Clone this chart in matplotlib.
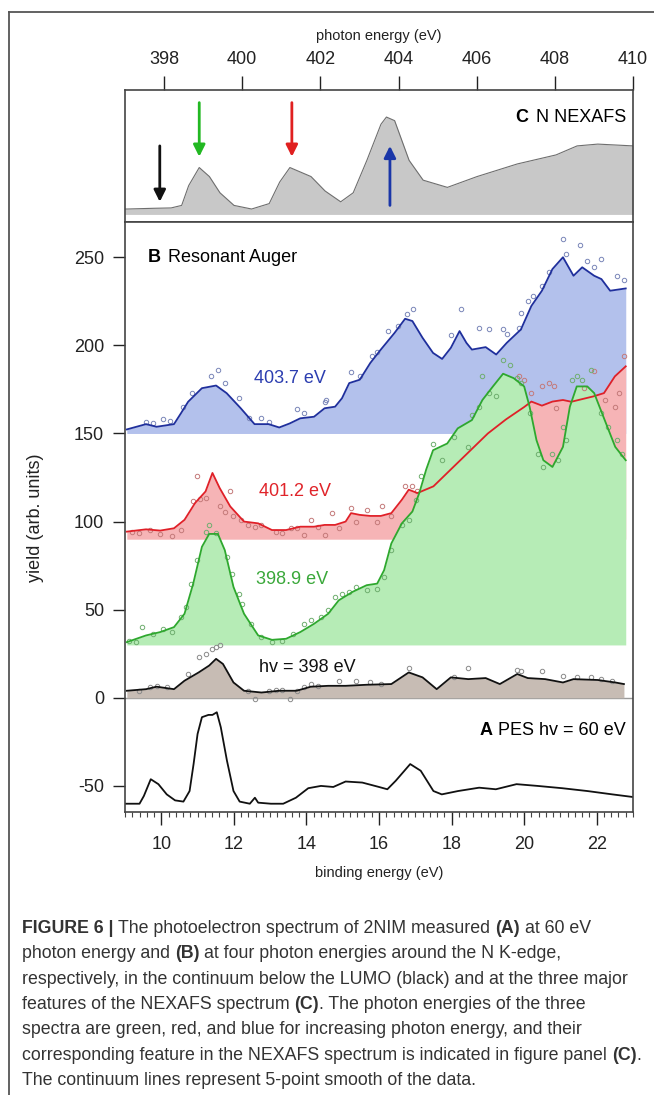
import matplotlib
matplotlib.use("Agg")
import matplotlib.pyplot as plt
from matplotlib.lines import Line2D
from matplotlib.transforms import IdentityTransform

plt.rcParams['font.family'] = ['Liberation Sans', 'DejaVu Sans']
plt.rcParams['axes.unicode_minus'] = False

# ---- panel C: N NEXAFS (photon energy, arb. height)
nexafs_e = [397.0, 397.06, 397.73, 398.18, 398.45, 398.63, 398.9, 399.16, 399.43, 399.79,
            400.24, 400.69, 400.96, 401.22, 401.76, 402.12, 402.52, 402.84, 403.19, 403.55,
            403.69, 403.9, 404.27, 404.63, 405.25, 406.01, 407.04, 408.03, 408.57, 409.1, 410.0]
nexafs_i = [15, 15, 17, 18, 25, 80, 130, 105, 60, 25,
            15, 30, 90, 130, 105, 65, 35, 60, 150, 250,
            270, 260, 150, 95, 75, 105, 140, 165, 190, 195, 190]

# arrows marking the photon energies (x, tail, head)
arrow_e = [397.89, 398.9, 401.27, 403.78]
arrow_from = [190, 310, 310, 25]
arrow_to = [35, 160, 160, 190]
arrow_col = ['#111111', '#22b822', '#e02020', '#1a36a8']

# ---- panel B: resonant Auger, smoothed lines
blue_e = [9.05, 9.58, 9.87, 10.35, 10.54, 10.74, 11.12, 11.51, 11.8, 12.19, 12.57, 12.96, 13.25,
          13.54, 13.83, 14.21, 14.5, 14.79, 14.98, 15.18, 15.47, 15.76, 16.05, 16.43, 16.72, 16.92,
          17.2, 17.49, 17.74, 17.98, 18.22, 18.41, 18.56, 18.94, 19.23, 19.52, 19.91, 20.2, 20.49,
          20.78, 21.07, 21.36, 21.6, 21.93, 22.13, 22.37, 22.8]
blue_v = [152.3, 155.3, 153.8, 155.3, 161.4, 168, 175.7, 177.2, 172.9, 164.3, 155.3, 155.3, 153.4,
          155.7, 158.6, 159.5, 164.3, 165.2, 170, 178.6, 180.5, 190, 197.6, 207.1, 215.1, 213.8,
          204.3, 195.7, 192.3, 198.6, 208.1, 201.4, 197.6, 199, 194.8, 201.4, 209, 222.4, 231,
          243.3, 250, 239.5, 244.3, 239.5, 237.6, 231, 232.3]

red_e = [9.05, 9.58, 9.97, 10.35, 10.64, 10.93, 11.22, 11.41, 11.61, 11.9, 12.28, 12.67, 13.05,
         13.44, 13.83, 14.21, 14.5, 14.79, 15.08, 15.23, 15.47, 15.76, 16.05, 16.34, 16.63, 16.82,
         17.06, 17.5, 18.0, 18.5, 19.0, 19.5, 20.0, 20.2, 20.49, 20.78, 21.07, 21.3, 21.9, 22.2,
         22.5, 22.8]
red_v = [94.3, 95.6, 94.9, 96.2, 101, 110.5, 117.1, 127.6, 119, 108.6, 100, 99, 95.2,
         95.2, 97.1, 97.1, 98.1, 98.1, 100, 104.8, 103.8, 103.2, 103.2, 104.8, 112.4, 118.1,
         116.2, 120, 130, 140, 150, 158, 165, 168.1, 165.8, 168.1, 169, 168, 171, 172.9,
         182.4, 188.1]

green_e = [9.05, 9.58, 9.97, 10.35, 10.64, 10.88, 11.12, 11.32, 11.56, 11.75, 11.99, 12.28, 12.67,
           13.05, 13.44, 13.83, 14.21, 14.6, 14.89, 15.27, 15.66, 15.95, 16.14, 16.34, 16.63, 16.92,
           17.11, 17.3, 17.49, 17.88, 18.17, 18.56, 18.85, 19.14, 19.42, 19.71, 20.0, 20.15, 20.34,
           20.53, 20.78, 21.07, 21.26, 21.45, 21.74, 21.93, 22.22, 22.51, 22.8]
green_v = [31.6, 35.4, 37.3, 40.1, 47.7, 64.8, 85.7, 93, 93, 83.8, 62.9, 47.7, 35.4,
           32.9, 33.5, 37.3, 42, 47.7, 55.3, 60.1, 63.9, 64.8, 72.4, 87.6, 99, 105.7,
           116.2, 129.5, 140.5, 144.3, 152.9, 157.6, 169, 176.7, 183.9, 181.4, 176.7, 165.2, 146.2,
           134.8, 131, 142.4, 165.2, 176.7, 176.7, 172.9, 157.6, 142.4, 134.8]

black_e = [9.05, 9.58, 9.87, 10.35, 10.64, 11.03, 11.32, 11.51, 11.7, 11.99, 12.28, 12.76, 13.25,
           13.73, 14.12, 14.6, 15.08, 15.66, 16.34, 16.82, 17.2, 17.59, 17.98, 18.46, 18.94, 19.33,
           19.81, 20.1, 20.58, 21.07, 21.36, 22.03, 22.51, 22.75]
black_v = [4, 4.9, 6.3, 4.9, 9.7, 14.4, 18.3, 22.1, 19.2, 8.7, 4, 3, 4,
           4, 6.3, 6.8, 6.8, 7.4, 7.8, 14.4, 11.6, 4.9, 11.6, 10.6, 11.2, 7.8,
           13.5, 11.2, 10.6, 8.7, 10.6, 10.1, 8.7, 7.8]

# ---- panel B: raw data points
blue_pe = [9.58, 9.77, 10.06, 10.25, 10.59, 10.85, 11.36, 11.56, 11.75, 12.14, 12.43, 12.76, 12.96,
           13.73, 13.92, 14.5, 14.55, 15.23, 15.47, 15.8, 15.95, 16.24, 16.53, 16.77, 16.94, 17.98,
           18.25, 18.75, 19.04, 19.42, 19.52, 19.86, 19.91, 20.1, 20.25, 20.49, 20.68, 21.07, 21.16,
           21.55, 21.74, 21.93, 22.13, 22.56, 22.75]
blue_pv = [156.7, 155.7, 158.2, 157, 165.2, 172.9, 182.4, 185.8, 178.6, 170, 158.6, 158.6, 156.7,
           163.7, 161.8, 168.1, 169, 184.7, 182.4, 193.8, 196.1, 208.1, 211, 218, 220.9, 205.6,
           220.9, 210, 209, 209, 206.2, 210, 218.6, 225.2, 228.1, 233.8, 241.4, 260.1, 251.9,
           257, 248.1, 244.3, 249, 239.1, 237]

red_pe = [9.19, 9.39, 9.68, 9.97, 10.3, 10.54, 10.88, 11.08, 11.22, 10.98, 11.9, 11.61, 11.75,
          11.99, 12.19, 12.38, 12.57, 12.76, 13.15, 13.34, 13.58, 13.73, 13.92, 14.12, 14.31, 14.5,
          14.7, 14.89, 15.23, 15.37, 15.66, 15.95, 16.09, 16.34, 16.72, 16.92, 17.06, 19.86, 20.0,
          20.2, 20.49, 20.68, 20.82, 20.87, 21.64, 21.93, 22.22, 22.61, 22.75, 22.51]
red_pv = [94.3, 93.7, 95.2, 93, 91.8, 95.2, 111.4, 112.7, 113.3, 126, 117.1, 108.6, 105.7,
          102.9, 101, 98.1, 97.1, 98.1, 94.3, 93.7, 96.2, 96.2, 92.4, 101, 97.1, 92.4,
          104.8, 96.2, 107.6, 100, 106.7, 100, 108.6, 102.9, 120, 120, 117.1, 182.4, 180.5,
          172.9, 176.7, 178.6, 176.7, 164.3, 175.7, 185.2, 169, 172.9, 193.8, 165.2]

green_pe = [9.1, 9.29, 9.48, 9.77, 10.06, 10.3, 10.54, 10.69, 10.83, 10.98, 11.22, 11.32, 11.51,
            11.8, 11.94, 12.14, 12.23, 12.47, 12.76, 13.05, 13.34, 13.63, 13.92, 14.12, 14.41, 14.6,
            14.79, 14.98, 15.18, 15.37, 15.66, 15.95, 16.14, 16.34, 16.63, 16.82, 17.01, 17.16, 17.49,
            17.74, 18.07, 18.46, 18.56, 18.75, 18.85, 19.04, 19.23, 19.42, 19.62, 19.81, 19.91, 20.15,
            20.39, 20.53, 20.78, 20.92, 21.07, 21.16, 21.31, 21.45, 21.6, 21.84, 22.13, 22.32, 22.56,
            22.71]
green_pv = [32.5, 31.6, 40.1, 36.3, 39.2, 37.3, 45.8, 51.5, 64.8, 78.1, 94.3, 98.1, 93.3,
            80, 70.5, 59.1, 53.4, 42, 34.4, 31.6, 32.5, 36.3, 42, 43.9, 45.8, 49.6,
            57.2, 59.1, 60.1, 62.9, 61, 62, 68.6, 83.8, 98.1, 101, 112.4, 125.7, 144.3,
            134.8, 148.1, 142.4, 160.5, 165.2, 182.4, 172.9, 171, 191.9, 189, 181.4, 178.6, 161.4,
            138.6, 131, 138.6, 134.8, 153.8, 146.2, 180.5, 182.4, 180.5, 186.2, 161.4, 153.8, 146.2,
            138.6]

black_pe = [9.39, 9.68, 9.87, 10.16, 10.74, 11.03, 11.22, 11.41, 11.51, 11.61, 12.38, 12.57, 12.96,
            13.15, 13.34, 13.54, 13.73, 13.92, 14.12, 14.31, 14.89, 15.37, 15.76, 16.05, 16.82, 18.07,
            18.46, 19.81, 19.91, 20.49, 21.07, 21.45, 21.84, 22.13, 22.42]
black_pv = [4, 5.9, 6.8, 5.9, 13.5, 23, 24.9, 27.8, 28.7, 29.7, 4, -0.8, 4,
            4.4, 4.4, -0.8, 4, 5.9, 7.8, 6.8, 9.7, 9.7, 8.7, 7.8, 16.9, 12,
            16.9, 15.8, 15.4, 15, 12.5, 12, 11.6, 10.6, 9.7]

# ---- panel A: PES at 60 eV
pes_e = [9.0, 9.4, 9.52, 9.71, 9.92, 10.15, 10.38, 10.61, 10.78, 10.89, 11.0, 11.12, 11.3,
         11.41, 11.53, 11.64, 11.81, 11.99, 12.16, 12.44, 12.58, 12.67, 13.02, 13.36, 13.71, 14.05,
         14.4, 14.74, 15.08, 15.54, 16.0, 16.23, 16.46, 16.86, 17.15, 17.5, 17.73, 18.18, 18.76,
         19.22, 19.79, 20.37, 21.05, 21.74, 22.43, 23.0]
pes_v = [-60.1, -60.1, -55.7, -46.2, -49, -54.8, -58.2, -58.9, -52.9, -37.6, -20.5, -11, -9.7,
         -9.7, -8.2, -16.7, -35.7, -52.9, -58.9, -60.1, -56.7, -59.5, -60.1, -60.1, -56.7, -51.3,
         -50, -50.6, -47.5, -48.1, -50.6, -51.9, -47.1, -37.6, -41.4, -52.9, -54.8, -52.9, -51,
         -51.9, -49, -50, -51.3, -52.9, -54.8, -56.3]

photon_ticks = [398, 400, 402, 404, 406, 408, 410]
be_ticks = [10, 12, 14, 16, 18, 20, 22]
yield_ticks = [-50, 0, 50, 100, 150, 200, 250]

caption = [
    "**FIGURE 6 |** The photoelectron spectrum of 2NIM measured **(A)** at 60 eV",
    "photon energy and **(B)** at four photon energies around the N K-edge,",
    "respectively, in the continuum below the LUMO (black) and at the three major",
    "features of the NEXAFS spectrum **(C)**. The photon energies of the three",
    "spectra are green, red, and blue for increasing photon energy, and their",
    "corresponding feature in the NEXAFS spectrum is indicated in figure panel **(C)**.",
    "The continuum lines represent 5-point smooth of the data.",
]

W, H = 654, 1095
fig = plt.figure(figsize=(W / 100, H / 100), dpi=100)
rend = fig.canvas.get_renderer()
spine_c = '#444444'


def px_axes(left, top, right, bottom):
    return fig.add_axes([left / W, 1 - bottom / H, (right - left) / W, (bottom - top) / H])


def text_width(s, size, weight='normal'):
    t = fig.text(0, 0, s, fontsize=size, fontweight=weight, transform=IdentityTransform())
    w = t.get_window_extent(rend).width
    t.remove()
    return w


def put_runs(x, y, line, size, color):
    # bold and normal runs on one line, placed one after the other
    sp = text_width("n n", size) - text_width("nn", size)
    for k, seg in enumerate(line.split('**')):
        if not seg:
            continue
        weight = 'bold' if k % 2 else 'normal'
        s = seg.strip(' ')
        if not s:
            x += sp
            continue
        if seg.startswith(' '):
            x += sp
        t = fig.text(x, H - y, s, fontsize=size, fontweight=weight, color=color,
                     ha='left', va='baseline', transform=IdentityTransform())
        x = t.get_window_extent(rend).x1
        if seg.endswith(' '):
            x += sp
    return x


# ---- panel C
axc = px_axes(125, 90, 633, 222)
axc.fill_between(nexafs_e, 0, nexafs_i, color='#c8c8c8', lw=0)
axc.plot(nexafs_e, nexafs_i, color='#6e6e6e', lw=0.8)
for xe, y0, y1, c in zip(arrow_e, arrow_from, arrow_to, arrow_col):
    axc.annotate('', xy=(xe, y1), xytext=(xe, y0),
                 arrowprops=dict(arrowstyle='-|>,head_width=0.35,head_length=0.7',
                                 color=c, lw=2, shrinkA=0, shrinkB=0))
axc.set_xlim(397, 410)
axc.set_ylim(-21, 345)
axc.set_yticks([])
axc.xaxis.tick_top()
axc.set_xticks(photon_ticks)
axc.tick_params(axis='x', direction='out', length=10, width=1, pad=6, labelsize=13,
                colors='#222222')
for s in axc.spines.values():
    s.set_color(spine_c)
    s.set_linewidth(1.2)

# ---- panels B and A share one axes
ax = px_axes(125, 222, 633, 812)
ax.axhline(0, color='#9a9a9a', lw=1, zorder=1)
series = [
    (blue_e, blue_v, 150, '#b3c1ec', '#1f2f9c', blue_pe, blue_pv, '#7a86b8'),
    (red_e, red_v, 90, '#f6b4b6', '#e02028', red_pe, red_pv, '#c47a7a'),
    (green_e, green_v, 30, '#b6ecb6', '#2ea82e', green_pe, green_pv, '#6fae6f'),
    (black_e, black_v, 0, '#c7bcb4', '#111111', black_pe, black_pv, '#8a8a8a'),
]
for xs, ys, base, fc, lc, pxs, pys, mc in series:
    ax.fill_between(xs, base, ys, color=fc, lw=0)
    ax.plot(pxs, pys, 'o', ms=3.2, mfc='none', mec=mc, mew=0.7)
    ax.plot(xs, ys, color=lc, lw=1.3)
ax.plot(pes_e, pes_v, color='#111111', lw=1.3)

ax.set_xlim(9, 23)
ax.set_ylim(-64.8, 270)
ax.set_xticks(be_ticks)
ax.set_xticks([9 + 0.2 * k for k in range(71)], minor=True)
ax.set_yticks(yield_ticks)
ax.tick_params(axis='both', which='major', direction='out', width=1, labelsize=13,
               colors='#222222')
ax.tick_params(axis='x', which='major', length=9, pad=8)
ax.tick_params(axis='x', which='minor', length=3.6, width=0.8, colors='#444444')
ax.tick_params(axis='y', length=9, pad=6)
for s in ax.spines.values():
    s.set_color(spine_c)
    s.set_linewidth(1.2)

ax.text(13.54, 181, '403.7 eV', color='#2b3db0', fontsize=13, ha='center', va='center')
ax.text(13.68, 117, '401.2 eV', color='#e0242a', fontsize=13, ha='center', va='center')
ax.text(13.61, 67, '398.9 eV', color='#3aa83a', fontsize=13, ha='center', va='center')
ax.text(14.02, 17, 'hv = 398 eV', color='#111111', fontsize=13, ha='center', va='center')

# panel titles
t = fig.text(626, H - 122, 'N NEXAFS', fontsize=13, ha='right', va='baseline',
             transform=IdentityTransform())
x0 = t.get_window_extent(rend).x0
fig.text(x0 - 7, H - 122, 'C', fontsize=13, fontweight='bold', ha='right', va='baseline',
         transform=IdentityTransform())
t = fig.text(148, H - 262, 'B', fontsize=13, fontweight='bold', ha='left', va='baseline',
             transform=IdentityTransform())
x1 = t.get_window_extent(rend).x1
fig.text(x1 + 7, H - 262, 'Resonant Auger', fontsize=13, ha='left', va='baseline',
         transform=IdentityTransform())
t = fig.text(626, H - 735, 'PES hv = 60 eV', fontsize=13, ha='right', va='baseline',
             transform=IdentityTransform())
x0 = t.get_window_extent(rend).x0
fig.text(x0 - 6, H - 735, 'A', fontsize=13, fontweight='bold', ha='right', va='baseline',
         transform=IdentityTransform())

# axis titles
fig.text(379 / W, 1 - 36 / H, 'photon energy (eV)', fontsize=10.5, ha='center', va='center',
         color='#222222')
fig.text(379 / W, 1 - 873 / H, 'binding energy (eV)', fontsize=10.5, ha='center', va='center',
         color='#222222')
fig.text(36 / W, 1 - 518 / H, 'yield (arb. units)', fontsize=13, rotation=90, ha='center',
         va='center', color='#222222')

# caption, sized so the third line spans the same width as in the figure
cap_size = 10 * 608 / text_width(caption[2], 10)
for i, line in enumerate(caption):
    put_runs(22, 933 + i * 25.3, line, cap_size, '#333333')

# outer frame (left and top edges visible)
fig.add_artist(Line2D([9 / W, 9 / W], [0, 1 - 12 / H], transform=fig.transFigure,
                      color='#555555', lw=1.3))
fig.add_artist(Line2D([9 / W, 1], [1 - 12 / H, 1 - 12 / H], transform=fig.transFigure,
                      color='#555555', lw=1.3))

fig.savefig('out.png', dpi=100)
